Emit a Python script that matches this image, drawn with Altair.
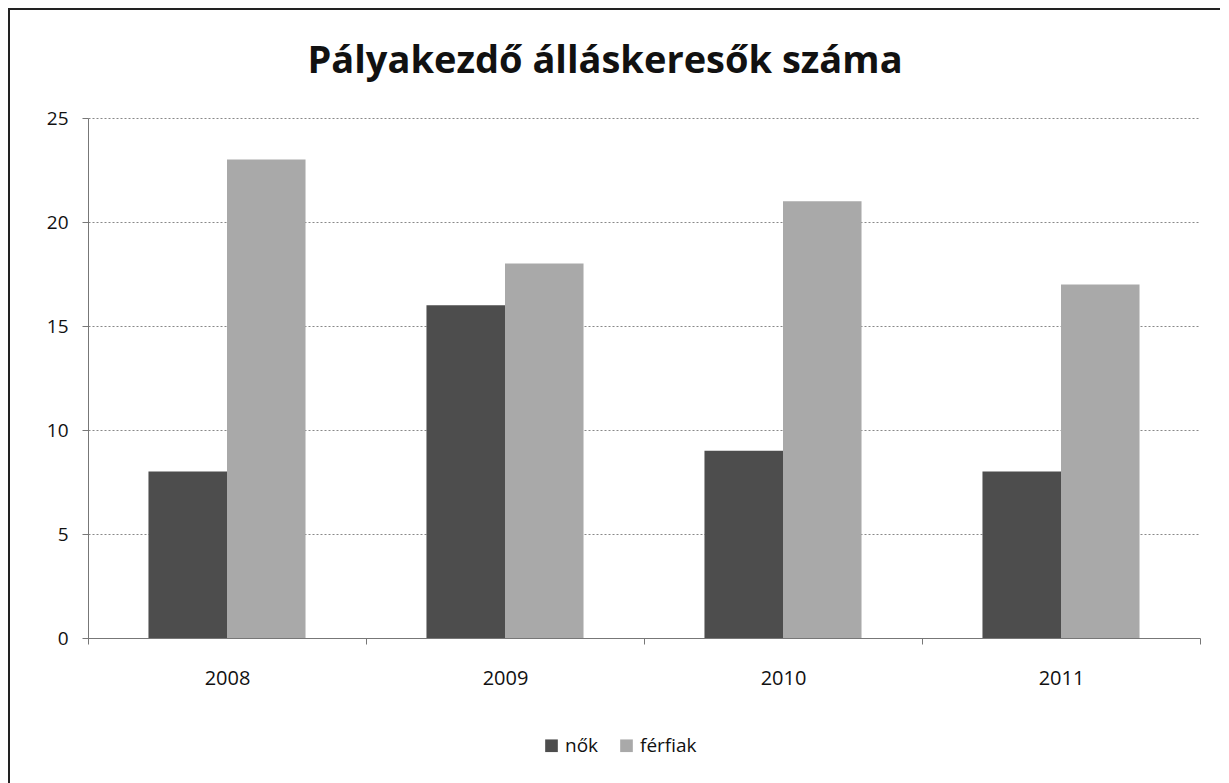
import altair as alt
import pandas as pd

years = ["2008", "2009", "2010", "2011"]
series = ["nők", "férfiak"]
nok = [8, 16, 9, 8]
ferfiak = [23, 18, 21, 17]
colors = ["#4d4d4d", "#a9a9a9"]
title_text = "Pályakezdő álláskeresők száma"

rows = []
for i, y in enumerate(years):
    rows.append({"ev": y, "nem": series[0], "ertek": nok[i]})
    rows.append({"ev": y, "nem": series[1], "ertek": ferfiak[i]})
df = pd.DataFrame(rows)

FONT = "Open Sans"

bars = alt.Chart(df).mark_bar(stroke=None).encode(
    x=alt.X("ev:N", sort=years, title=None,
            scale=alt.Scale(paddingInner=0, paddingOuter=0),
            axis=alt.Axis(labelAngle=0, labelFontSize=20, labelFont=FONT, labelColor="#111",
                          tickBand="extent", ticks=True, tickSize=6, tickColor="#777",
                          domainColor="#777", labelPadding=24, grid=False)),
    xOffset=alt.XOffset("nem:N", sort=series,
                        scale=alt.Scale(paddingInner=0, paddingOuter=0.77)),
    y=alt.Y("ertek:Q", title=None,
            scale=alt.Scale(domain=[0, 25]),
            axis=alt.Axis(values=[0, 5, 10, 15, 20, 25], labelFontSize=19, labelFont=FONT,
                          labelColor="#111", tickSize=6, tickColor="#777", domainColor="#777",
                          labelPadding=14, gridColor="#888", gridDash=[2, 2], gridWidth=1)),
    color=alt.Color("nem:N", sort=series,
                    scale=alt.Scale(domain=series, range=colors),
                    legend=alt.Legend(title=None, orient="none", direction="horizontal",
                                      legendX=454, legendY=618, symbolType="square",
                                      symbolSize=160, labelFontSize=19, labelFont=FONT,
                                      labelColor="#111", columnPadding=18, symbolStrokeWidth=0)),
)

title = alt.Chart(pd.DataFrame({"t": [title_text]})).mark_text(
    font=FONT, fontSize=38, fontWeight="bold", color="#111",
    align="center", baseline="alphabetic").encode(
    text="t:N", x=alt.value(517), y=alt.value(-45))

border_top = alt.Chart(df).mark_rule(color="#222", strokeWidth=2).encode(
    x=alt.value(-80), x2=alt.value(1150), y=alt.value(-109))
border_left = alt.Chart(df).mark_rule(color="#222", strokeWidth=2).encode(
    x=alt.value(-79), y=alt.value(-110), y2=alt.value(670))

chart = alt.layer(bars, title, border_top, border_left).properties(
    width=1112, height=520,
    autosize=alt.AutoSizeParams(type="none"),
    padding={"left": 80, "top": 110, "right": 20, "bottom": 145},
).configure_view(stroke=None)

chart.save("out.html", embed_options={"renderer": "svg", "actions": False})
